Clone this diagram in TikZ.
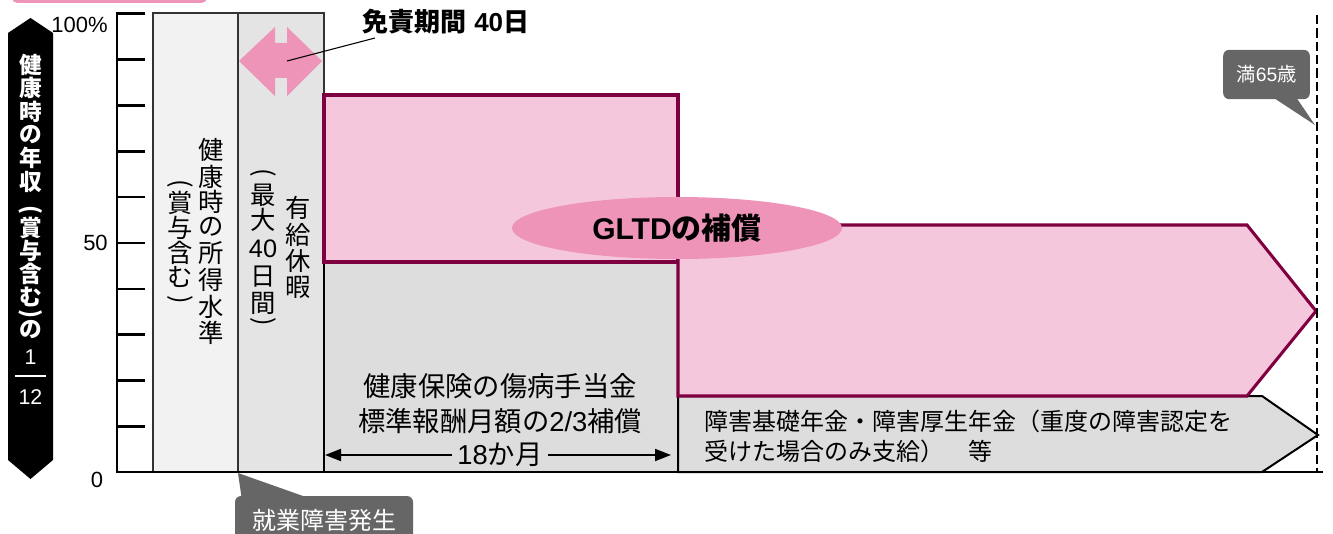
\documentclass[tikz,border=0pt]{standalone}
\usepackage{fontspec}
\setmainfont{Noto Sans CJK JP}
\newfontfamily\lat{Liberation Sans}
\usetikzlibrary{arrows.meta,calc,shapes.geometric}
\definecolor{pinkfill}{HTML}{F5C7DC}
\definecolor{gltdline}{HTML}{7F0040}
\definecolor{pinkhi}{HTML}{EE94B9}
\definecolor{grayfill}{HTML}{DCDDDC}
\definecolor{colone}{HTML}{F2F2F2}
\definecolor{coltwo}{HTML}{E4E4E4}
\definecolor{callgray}{HTML}{666666}
\newcommand\fsz[1]{\fontsize{#1}{#1}\selectfont}
\begin{document}
\begin{tikzpicture}[x=0.75pt,y=-0.75pt,
  bandtxt/.style={text=white,inner sep=0,font=\fsz{17}\bfseries},
  bandnum/.style={text=white,inner sep=0,font=\fsz{16}\lat},
  coltxt/.style={inner sep=0,font=\fsz{19}},
  axlbl/.style={inner sep=0,font=\fsz{16.5}\lat},
  colline/.style={draw=black!80,line width=1pt},
  pinkbox/.style={draw=gltdline,fill=pinkfill,line width=2.3pt,line join=miter},
  graybox/.style={draw=black,fill=grayfill,line width=1.5pt},
  bodytxt/.style={inner sep=0,font=\fsz{20.5}},
  arr/.style={line width=1.4pt,-{Triangle[length=12pt,width=9pt]}},
  callout/.style={fill=callgray,text=white,rounded corners=4.5pt,inner sep=0}
]
\useasboundingbox (0,0) rectangle (1333,534);

% top-left pink tab (cut off)
\fill[pinkhi,rounded corners=4pt] (12,-20) rectangle (207,3);

% vertical black band arrow
\fill[black] (8,33) -- (30.5,18) -- (53,33) -- (53,460) -- (30.5,479) -- (8,460) -- cycle;
\foreach \c/\y [count=\i] in {健/65,康/88,時/112,の/135,年/158,収/182,賞/228,与/251,含/274,む/297,の/330}
  \node[bandtxt] (b\i) at (30.5,\y) {\c};
\node[bandtxt,rotate=-90] (bpo) at (30.5,210) {(};
\node[bandtxt,rotate=-90] (bpc) at (30.5,314) {)};
\node[bandnum] (bone) at (30.5,357) {1};
\draw[white,line width=2pt] (15,376) -- (46,376);
\node[bandnum] (btwelve) at (30.5,397) {12};

% columns
\draw[colline,fill=colone] (153,13) rectangle (238,472);
\draw[colline,fill=coltwo] (238,13) rectangle (324,472);
\foreach \c/\y [count=\i] in {健/150,康/177,時/202,の/227,所/253,得/280,水/307,準/333}
  \node[coltxt] (ca\i) at (211,\y) {\c};
\node[coltxt,rotate=-90] (cbo) at (180,184) {(};
\foreach \c/\y [count=\i] in {賞/203,与/228,含/253,む/277}
  \node[coltxt] (cb\i) at (180,\y) {\c};
\node[coltxt,rotate=-90] (cbc) at (180,300) {)};
\node[coltxt,rotate=-90] (cco) at (263,173) {(};
\foreach \c/\y [count=\i] in {最/195,大/220,{\lat 40}/249,日/277,間/303}
  \node[coltxt] (cc\i) at (263,\y) {\c};
\node[coltxt,rotate=-90] (ccc) at (263,322) {)};
\foreach \c/\y [count=\i] in {有/208,給/235,休/261,暇/287}
  \node[coltxt] (cd\i) at (298,\y) {\c};

% double arrow (exemption period)
\fill[pinkhi] (239,61) -- (275,27) -- (275,43) -- (287,43) -- (287,27) -- (322,61)
  -- (287,96) -- (287,78) -- (275,78) -- (275,96) -- cycle;
\coordinate (dblc) at (287,61);
\node[inner sep=0,anchor=west,font=\fsz{19.5}\bfseries] (exempt) at (362,22) {免責期間\hspace{6pt}{\lat\bfseries 40}日};
\coordinate (exemptend) at (375,38);
\draw[line width=0.8pt] (dblc) -- (exemptend);

% health insurance block
\draw[graybox] (324,262) rectangle (678,472);
\draw[pinkbox] (324,95) rectangle (678,262);
\node[bodytxt] (hi1) at (500,386) {健康保険の傷病手当金};
\node[bodytxt] (hi2) at (500,421) {標準報酬月額の{\lat 2/3}補償};
\node[bodytxt,inner xsep=4pt] (m18) at (500,455) {{\lat 18}か月};
\coordinate (m18l) at (325,455);
\coordinate (m18r) at (671,455);
\draw[arr] (m18.west) -- (m18l);
\draw[arr] (m18.east) -- (m18r);

% pension block and GLTD block
\draw[graybox,line join=miter] (678,396) -- (1262,396) -- (1318,435) -- (1262,472) -- (678,472) -- cycle;
\draw[pinkbox] (678,225) -- (1247,225) -- (1316,311) -- (1247,396) -- (678,396) -- cycle;
\node[inner sep=0,anchor=west,align=left,font=\fontsize{18}{23}\selectfont] (pen) at (704,436.5)
  {障害基礎年金・障害厚生年金（重度の障害認定を\\受けた場合のみ支給）　等};

\node[ellipse,fill=pinkhi,minimum width=247.5pt,minimum height=46.5pt,inner sep=0,
  font=\fsz{22.5}\bfseries] (gltd) at (677,228) {{\lat\bfseries GLTD}の補償};

% axis
\draw[line width=2pt] (117,12) -- (117,472) -- (1323,472);
\foreach \k in {0,...,9}
  \draw[line width=2pt] (117,{13.5+45.9*\k}) -- (145,{13.5+45.9*\k});
\node[axlbl,anchor=east] (l100) at (108,25) {100\%};
\node[axlbl,anchor=east] (l50) at (108,243) {50};
\node[axlbl] (l0) at (97,480) {0};

% age 65 dashed line and callout
\draw[line width=1.4pt,dash pattern=on 7pt off 3pt] (1317,15) -- (1317,472);
\node[callout,minimum width=65pt,minimum height=37pt,font=\fsz{14.5}] (age) at (1266.5,74.5) {満{\lat 65}歳};
\coordinate (agetip) at (1315,125);
\fill[callgray] ($(age.south)+(5,-3)$) -- (agetip) -- ($(age.south)+(29,-3)$) -- cycle;

% onset callout
\node[callout,minimum width=133.5pt,minimum height=36pt,font=\fsz{18}] (onset) at (324,520) {就業障害発生};
\coordinate (onsettip) at (238,473);
\fill[callgray] ($(onset.north west)+(7,3)$) -- (onsettip) -- ($(onset.north west)+(76,3)$) -- cycle;
\end{tikzpicture}
\end{document}
